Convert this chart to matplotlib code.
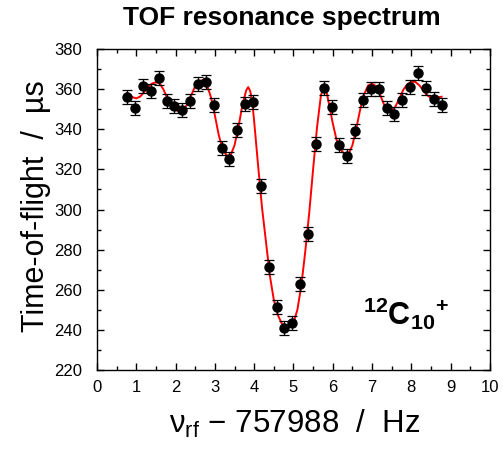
import numpy as np
import matplotlib
matplotlib.use("Agg")
import matplotlib.pyplot as plt
from matplotlib.ticker import MultipleLocator

plt.rcParams['font.family'] = ['Liberation Sans', 'DejaVu Sans']
plt.rcParams['mathtext.fontset'] = 'custom'
plt.rcParams['mathtext.rm'] = 'Liberation Sans'
plt.rcParams['mathtext.bf'] = 'Liberation Sans:bold'
plt.rcParams['mathtext.it'] = 'Liberation Sans:italic'

# measured points (frequency offset / Hz, TOF / us, error)
freq = [0.77, 0.97, 1.17, 1.37, 1.57, 1.77, 1.97, 2.17, 2.37, 2.57,
        2.77, 2.97, 3.17, 3.37, 3.57, 3.77, 3.97, 4.17, 4.37, 4.57,
        4.77, 4.97, 5.17, 5.37, 5.57, 5.77, 5.97, 6.17, 6.37, 6.57,
        6.77, 6.97, 7.17, 7.37, 7.57, 7.77, 7.97, 8.17, 8.37, 8.57, 8.77]
tof = [355.9, 350.6, 361.7, 359.2, 365.7, 354.2, 351.7, 349.4, 353.9, 362.4,
       363.5, 351.9, 330.8, 325.0, 339.8, 352.6, 353.7, 311.5, 271.5, 251.2,
       240.8, 243.6, 262.9, 287.9, 332.5, 360.6, 350.9, 332.1, 326.7, 339.3,
       354.4, 359.9, 359.9, 350.7, 347.6, 354.7, 361.2, 367.9, 360.4, 355.1, 352.1]
tofErr = [3.5, 3.5, 3.5, 3.5, 3.5, 3.5, 3.5, 3.5, 3.5, 3.5,
          3.5, 3.5, 3.5, 3.5, 3.5, 3.5, 3.5, 3.5, 3.5, 3.5,
          3.5, 3.5, 3.5, 3.5, 3.5, 3.5, 3.5, 3.5, 3.5, 3.5,
          3.5, 3.5, 3.5, 3.5, 3.5, 3.5, 3.5, 3.5, 3.5, 3.5, 3.5]

# fitted line shape
fitFreq = [0.77, 0.9, 1.0, 1.1, 1.2, 1.3, 1.4, 1.5, 1.6, 1.7, 1.8, 1.9, 2.0,
           2.1, 2.2, 2.3, 2.4, 2.5, 2.6, 2.7, 2.8, 2.9, 3.0, 3.1, 3.2, 3.3,
           3.35, 3.4, 3.5, 3.6, 3.7, 3.8, 3.85, 3.9, 3.95, 4.0, 4.1, 4.2,
           4.3, 4.4, 4.5, 4.6, 4.7, 4.8, 4.9, 5.0, 5.1, 5.2, 5.3, 5.4, 5.5,
           5.6, 5.7, 5.78, 5.85, 5.9, 6.0, 6.1, 6.2, 6.3, 6.4, 6.5, 6.6, 6.7,
           6.8, 6.9, 7.0, 7.1, 7.2, 7.3, 7.4, 7.5, 7.6, 7.7, 7.8, 7.9, 8.0,
           8.1, 8.2, 8.3, 8.4, 8.5, 8.6, 8.7, 8.77]
fitTof = [358.2, 356.0, 355.4, 356.3, 358.5, 361.0, 362.8, 363.4, 362.8, 359.5,
          355.0, 351.5, 349.5, 349.0, 349.8, 352.5, 357.0, 361.5, 364.0, 364.5,
          362.0, 356.0, 347.0, 337.0, 330.0, 327.0, 326.5, 327.0, 332.0, 341.0,
          352.0, 359.5, 361.0, 359.0, 354.0, 344.0, 322.0, 301.0, 284.0, 267.0,
          255.0, 247.5, 243.3, 241.3, 241.3, 243.5, 250.0, 262.0, 279.0, 298.0,
          320.0, 341.0, 357.0, 361.5, 358.0, 353.0, 343.0, 334.5, 330.0, 327.5,
          327.5, 332.0, 340.5, 350.0, 357.5, 361.8, 362.8, 361.5, 357.5, 352.5,
          349.2, 349.0, 351.5, 355.5, 359.8, 362.5, 363.6, 363.6, 362.0, 359.5,
          357.0, 355.6, 355.5, 356.0, 356.2]

fig = plt.figure(figsize=(5.03, 4.55), dpi=100)
ax = fig.add_axes([0.1928, 0.1868, 0.7812, 0.7055])

ax.plot(fitFreq, fitTof, color='red', lw=1.4, zorder=2)
ax.errorbar(freq, tof, yerr=tofErr, fmt='o', color='black', ms=6.5,
            elinewidth=0.9, capsize=3.5, capthick=0.9, zorder=3)

ax.set_xlim(0, 10)
ax.set_ylim(220, 380)
ax.xaxis.set_major_locator(MultipleLocator(1))
ax.xaxis.set_minor_locator(MultipleLocator(0.5))
ax.yaxis.set_major_locator(MultipleLocator(20))
ax.yaxis.set_minor_locator(MultipleLocator(10))
ax.tick_params(which='both', direction='in', top=True, right=True,
               labelsize=12, width=1)
ax.tick_params(which='major', length=5)
ax.tick_params(which='minor', length=3)
ax.tick_params(axis='y', which='major', pad=11)
ax.tick_params(axis='x', which='major', pad=7)
for s in ax.spines.values():
    s.set_linewidth(1)

ax.text(7.86, 248, r'$\mathbf{{}^{12}{C_{10}}^{+}}$', fontsize=22,
        ha='center', va='center')

fig.text(0.561, 0.960, 'TOF resonance spectrum', fontsize=19,
         fontweight='bold', ha='center', va='center')
fig.text(0.072, 0.547, 'Time-of-flight  /  \u00b5s', fontsize=22,
         rotation=90, ha='center', va='center')
fig.text(0.585, 0.068, '$\\mathrm{\\nu_{rf}}$ \u2212 757988  /  Hz', fontsize=22.5,
         ha='center', va='center')

fig.savefig("out.png", dpi=100)
